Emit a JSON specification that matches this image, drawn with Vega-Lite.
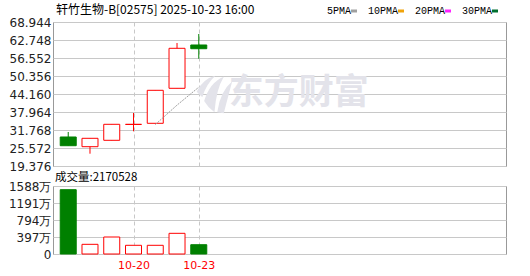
{
  "$schema": "https://vega.github.io/schema/vega-lite/v6.json",
  "padding": {"left": 7, "top": 3, "right": 10, "bottom": 2},
  "background": "white",
  "config": {
    "font": "DejaVu Sans",
    "view": {"stroke": "#999999", "strokeWidth": 1},
    "axis": {"labelFont": "DejaVu Sans", "labelFontSize": 12, "labelColor": "#222222", "ticks": false, "domain": false, "gridColor": "#c8c8c8", "labelOverlap": false, "labelFlush": false},
    "axisY": {"grid": true, "gridColor": "#c8c8c8"},
    "concat": {"spacing": -2}
  },
  "datasets": {
    "k": [
      {"i": 0, "date": "10-15", "open": 29.36, "close": 26.36, "high": 31.08, "low": 26.36, "vol": 1502},
      {"i": 1, "date": "10-16", "open": 26.02, "close": 28.91, "high": 28.91, "low": 23.61, "vol": 226},
      {"i": 2, "date": "10-17", "open": 28.22, "close": 33.73, "high": 33.73, "low": 28.22, "vol": 397},
      {"i": 3, "date": "10-20", "open": 33.7, "close": 33.7, "high": 37.62, "low": 31.32, "vol": 203},
      {"i": 4, "date": "10-21", "open": 34.07, "close": 45.43, "high": 45.43, "low": 34.07, "vol": 203},
      {"i": 5, "date": "10-22", "open": 46.12, "close": 59.89, "high": 61.72, "low": 46.12, "vol": 483},
      {"i": 6, "date": "10-23", "open": 61.03, "close": 59.75, "high": 64.81, "low": 56.31, "vol": 217}
    ],
    "ma": [
      {"i": 4, "ma": "5PMA", "v": 33.63},
      {"i": 5, "ma": "5PMA", "v": 40.33},
      {"i": 6, "ma": "5PMA", "v": 46.5}
    ],
    "wm": [
      {"i": 10.6, "v": 44.4, "label": "东方财富"}
    ],
    "logo": [
      {"i": 6.72, "v": 44.0}
    ]
  },
  "vconcat": [
    {
      "width": 453,
      "height": 144,
      "view": {"stroke": "#999999", "strokeWidth": 1},
      "title": {"text": "轩竹生物-B[02575] 2025-10-23 16:00", "anchor": "start", "frame": "group", "font": "Noto Sans CJK SC", "fontSize": 12, "fontWeight": "normal", "color": "#000000", "offset": -1, "dx": 3},
      "encoding": {
        "x": {"field": "i", "type": "quantitative", "scale": {"domain": [-0.47, 19.89], "nice": false, "zero": false},
              "axis": {"values": [3, 6], "labels": false, "grid": true, "gridDash": [4, 3], "title": null}},
        "y": {"field": "low", "type": "quantitative", "scale": {"domain": [19.376, 68.944], "nice": false, "zero": false},
              "axis": {"values": [19.376, 25.572, 31.768, 37.964, 44.16, 50.356, 56.552, 62.748, 68.944], "format": ".3f", "title": null, "labelPadding": 2, "grid": true, "labelOverlap": false, "labelFlush": false}}
      },
      "layer": [
        {
          "data": {"name": "k"},
          "mark": {"type": "rule", "strokeWidth": 1},
          "encoding": {
            "y2": {"field": "high"},
            "color": {"condition": {"test": "datum.close < datum.open", "value": "#008000"}, "value": "#ff0000"}
          }
        },
        {
          "data": {"name": "wm"},
          "mark": {"type": "text", "font": "Noto Sans CJK SC", "fontSize": 35, "fontWeight": "bold", "color": "#e3e3ea"},
          "encoding": {
            "y": {"field": "v", "type": "quantitative"},
            "text": {"field": "label"}
          }
        },
        {
          "data": {"name": "logo"},
          "mark": {"type": "point", "filled": true, "color": "#e3e3ea", "opacity": 1, "size": 1400,
                   "shape": "M-0.95,-0.15 Q-0.6,-0.85 0.05,-1 Q-0.45,-0.55 -0.65,0.15 Z M-0.55,0.35 Q-0.25,-0.65 0.5,-0.95 Q0.1,-0.3 0.0,0.95 Q-0.35,0.7 -0.55,0.35 Z M0.15,0.95 Q0.3,-0.15 0.95,-0.7 Q0.75,0.05 0.5,1 Z"},
          "encoding": {
            "y": {"field": "v", "type": "quantitative"}
          }
        },
        {
          "data": {"name": "k"},
          "mark": {"type": "bar", "size": 16, "strokeWidth": 1},
          "encoding": {
            "y": {"field": "open", "type": "quantitative"},
            "y2": {"field": "close"},
            "fill": {"condition": {"test": "datum.close < datum.open", "value": "#008000"}, "value": "#ffffff"},
            "stroke": {"condition": {"test": "datum.close < datum.open", "value": "#008000"}, "value": "#ff0000"}
          }
        },
        {
          "data": {"name": "ma"},
          "mark": {"type": "line", "strokeWidth": 1, "strokeDash": [2, 1]},
          "encoding": {
            "y": {"field": "v", "type": "quantitative"},
            "color": {"field": "ma", "type": "nominal",
                      "scale": {"domain": ["5PMA", "10PMA", "20PMA", "30PMA"], "range": ["#a0a0a0", "#f0a30a", "#ff22ff", "#006f2e"]},
                      "legend": {"orient": "none", "legendX": 296, "legendY": -16, "direction": "horizontal", "title": null,
                                 "labelFont": "Liberation Mono", "labelFontSize": 10, "labelColor": "#000000",
                                 "symbolType": "stroke", "symbolSize": 36, "symbolStrokeWidth": 3, "symbolDash": [],
                                 "labelAlign": "right", "labelOffset": -8, "columnPadding": 4, "padding": 0}}
          }
        }
      ]
    },
    {
      "width": 453,
      "height": 68,
      "view": {"stroke": "#999999", "strokeWidth": 1},
      "title": {"text": "成交量:2170528", "anchor": "start", "frame": "group", "font": "Noto Sans CJK SC", "fontSize": 11.5, "fontWeight": "normal", "color": "#000000", "offset": -3, "dx": 2},
      "data": {"name": "k"},
      "mark": {"type": "bar", "size": 16, "strokeWidth": 1},
      "encoding": {
        "x": {"field": "i", "type": "quantitative", "scale": {"domain": [-0.47, 19.89], "nice": false, "zero": false},
              "axis": {"values": [3, 6], "labelExpr": "datum.value == 3 ? '10-20' : '10-23'", "labelColor": "#ff0000", "labelFontSize": 11, "labelPadding": 5, "grid": true, "gridDash": [4, 3], "title": null}},
        "y": {"field": "vol", "type": "quantitative", "scale": {"domain": [0, 1588], "nice": false},
              "axis": {"values": [0, 397, 794, 1191, 1588], "labelExpr": "datum.value == 0 ? '0' : datum.value + '万'", "title": null, "labelPadding": 2, "grid": true, "labelOverlap": false, "labelFlush": false}},
        "fill": {"condition": {"test": "datum.close < datum.open", "value": "#008000"}, "value": "#ffffff"},
        "stroke": {"condition": {"test": "datum.close < datum.open", "value": "#008000"}, "value": "#ff0000"}
      }
    }
  ]
}
